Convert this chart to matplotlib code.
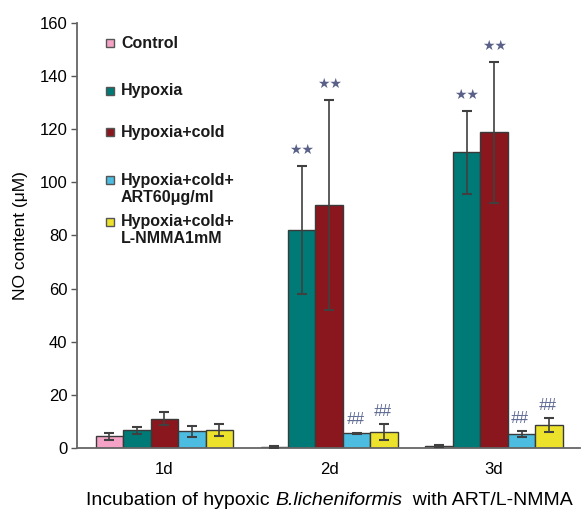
import numpy as np
import matplotlib
matplotlib.use("Agg")
import matplotlib.pyplot as plt
from matplotlib.patches import Rectangle

plt.rcParams["font.family"] = ["Liberation Sans", "DejaVu Sans"]

# data
days = ["1d", "2d", "3d"]
groups = ["Control", "Hypoxia", "Hypoxia+cold", "Hypoxia+cold+\nART60\u03bcg/ml", "Hypoxia+cold+\nL-NMMA1mM"]
colors = ["#F4A3C6", "#007A76", "#8A171D", "#4CBCE0", "#EDE22B"]

control = [4.5, 0.5, 1.0]
hypoxia = [6.8, 82.0, 111.3]
hyp_cold = [11.1, 91.4, 118.8]
art = [6.4, 5.6, 5.3]
lnmma = [6.8, 6.0, 8.8]

control_err = [1.3, 0.2, 0.4]
hypoxia_err = [1.3, 24.0, 15.6]
hyp_cold_err = [2.4, 39.4, 26.6]
art_err = [2.1, 0.3, 1.1]
lnmma_err = [2.3, 3.0, 2.5]

# marks: (group index, day index, text)
marks = [(1, 1, "\u2605\u2605"), (2, 1, "\u2605\u2605"), (1, 2, "\u2605\u2605"), (2, 2, "\u2605\u2605"),
         (3, 1, "##"), (4, 1, "##"), (3, 2, "##"), (4, 2, "##")]

xlabel_parts = [("Incubation of hypoxic ", "normal"), ("B.licheniformis", "italic"), ("  with ART/L-NMMA", "normal")]

values = [control, hypoxia, hyp_cold, art, lnmma]
errors = [control_err, hypoxia_err, hyp_cold_err, art_err, lnmma_err]

fig = plt.figure(figsize=(5.81, 5.12), dpi=100)
ax = fig.add_axes([0.1325, 0.1244, 0.8655, 0.8313])

x = np.arange(len(days))
w = 1 / 6
for i in range(len(groups)):
    pos = x + (i - 2) * w
    ax.bar(pos, values[i], width=w, color=colors[i], edgecolor="#3a3a3a", linewidth=1.0, zorder=2)
    ax.errorbar(pos, values[i], yerr=errors[i], fmt="none", ecolor="#404040",
                elinewidth=1.2, capsize=3.5, capthick=1.5, zorder=3)

for gi, di, txt in marks:
    top = values[gi][di] + errors[gi][di]
    if txt == "##":
        ax.text(x[di] + (gi - 2) * w - 0.01, top + 4.8, txt, ha="center", va="center",
                fontsize=11.5, color="#5a6690", style="italic")
    else:
        ax.text(x[di] + (gi - 2) * w, top + 6, txt, ha="center", va="center",
                fontsize=10, color="#5a6188", family=["DejaVu Sans"])

ax.set_xlim(-0.53, 2.52)
ax.set_ylim(0, 160)
ax.set_yticks(np.arange(0, 161, 20))
ax.set_xticks(x)
ax.set_xticklabels(days, fontsize=12)
ax.tick_params(axis="x", length=0, pad=10)
ax.tick_params(axis="y", direction="out", length=4, width=1, colors="#555555", labelcolor="black", labelsize=12, pad=3)
for s in ["top", "right"]:
    ax.spines[s].set_visible(False)
for s in ["left", "bottom"]:
    ax.spines[s].set_color("#666666")
    ax.spines[s].set_linewidth(1.3)

ax.set_ylabel("NO content (\u03bcM)", fontsize=12.5, labelpad=8)

# x label with an italic species name, built from pieces
renderer = fig.canvas.get_renderer()
pieces = [fig.text(0, 0.013, t, fontsize=14, style=st, va="baseline") for t, st in xlabel_parts]
widths = [p.get_window_extent(renderer).width for p in pieces]
start = (fig.bbox.width * 0.567 - sum(widths) / 2)
for p, wd in zip(pieces, widths):
    p.set_x(start / fig.bbox.width)
    start += wd

# legend drawn by hand to keep the uneven spacing
leg_y = [0.952, 0.840, 0.743, 0.630, 0.532]
for i in range(len(groups)):
    ax.add_patch(Rectangle((0.058, leg_y[i] - 0.0095), 0.016, 0.019, transform=ax.transAxes,
                           facecolor=colors[i], edgecolor="#555555", linewidth=1, clip_on=False))
    for k, line in enumerate(groups[i].split("\n")):
        ax.text(0.0875, leg_y[i] - 0.04 * k, line, transform=ax.transAxes, ha="left", va="center",
                fontsize=11.5, fontweight="bold", color="#1a1a1a")

fig.savefig("out.png", dpi=100)
